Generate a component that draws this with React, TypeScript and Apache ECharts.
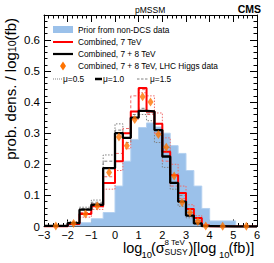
import React, { useEffect, useRef } from 'react';
import * as echarts from 'echarts';

// Histogram bin edges in log10(sigma / fb)
const binEdges = [-3, -2, -1.5, -1, -0.5, 0, 0.333, 0.667, 1, 1.333, 1.667, 2, 2.333, 2.667, 3, 3.333, 3.667, 4, 5.1, 6];

// Prior from non-DCS data (blue filled)
const priorValues = [0, 0.004, 0.012, 0.025, 0.045, 0.13, 0.21, 0.28, 0.318, 0.333, 0.32, 0.3, 0.26, 0.235, 0.18, 0.13, 0.058, 0.018, 0];
// Combined, 7 TeV (red)
const combined7 = [0, 0.008, 0.04, 0.065, 0.14, 0.21, 0.3, 0.37, 0.445, 0.37, 0.33, 0.24, 0.165, 0.108, 0.056, 0.027, 0.003, 0, 0];
// Combined, 7 + 8 TeV (black)
const combined78 = [0.002, 0.011, 0.054, 0.07, 0.188, 0.3, 0.285, 0.35, 0.372, 0.37, 0.31, 0.225, 0.14, 0.08, 0.035, 0.01, 0.001, 0, 0];
// Combined, 7 + 8 TeV, LHC Higgs data (orange markers)
const combined78Higgs = [0.002, 0.01, 0.04, 0.066, 0.174, 0.288, 0.26, 0.344, 0.417, 0.4, 0.296, 0.255, 0.162, 0.077, 0.045, 0.016, 0.002, 0.001, 0.001];
// mu variations
const combined7Mu05 = [0, 0.006, 0.03, 0.055, 0.12, 0.18, 0.25, 0.345, 0.43, 0.42, 0.365, 0.285, 0.2, 0.13, 0.07, 0.035, 0.005, 0, 0];
const combined7Mu15 = [0, 0.01, 0.045, 0.072, 0.16, 0.235, 0.315, 0.42, 0.44, 0.36, 0.3, 0.21, 0.13, 0.09, 0.045, 0.02, 0.002, 0, 0];
const combined78Mu05 = [0.002, 0.016, 0.062, 0.085, 0.23, 0.33, 0.3, 0.37, 0.36, 0.34, 0.27, 0.19, 0.12, 0.065, 0.028, 0.008, 0, 0, 0];
const combined78Mu15 = [0.002, 0.013, 0.058, 0.078, 0.21, 0.31, 0.27, 0.36, 0.38, 0.365, 0.33, 0.255, 0.165, 0.1, 0.045, 0.018, 0.003, 0, 0];

const xMin = -3;
const xMax = 6;
const yMax = 0.68;

const legendLabels = [
  'Prior from non-DCS data',
  'Combined, 7 TeV',
  'Combined, 7 + 8 TeV',
  'Combined, 7 + 8 TeV, LHC Higgs data',
];
const muLabels = ['μ=0.5', 'μ=1.0', 'μ=1.5'];

const FONT = 'Liberation Sans, Arial, Helvetica, sans-serif';
const BLUE = '#9bc1ea';
const ORANGE = '#ff7300';
const PINK = '#f06a6a';
const GRAY = '#808080';

function stepPoints(values: number[]) {
  const pts: number[][] = [];
  values.forEach((v, i) => {
    pts.push([binEdges[i], v]);
    pts.push([binEdges[i + 1], v]);
  });
  return pts;
}

function centers(values: number[]) {
  return values.map((v, i) => [(binEdges[i] + binEdges[i + 1]) / 2, v]);
}

function stepSeries(values: number[], color: string, width: number, type: any, z: number) {
  return {
    type: 'line',
    data: stepPoints(values),
    showSymbol: false,
    symbol: 'none',
    lineStyle: { color, width, type },
    z,
    silent: true,
  };
}

function txt(x: number, y: number, text: string, fontSize: number, extra: any = {}) {
  return {
    type: 'text',
    x,
    y,
    style: {
      text,
      fontSize,
      fontFamily: FONT,
      fill: '#000',
      align: 'left',
      verticalAlign: 'middle',
      ...extra,
    },
    z: 100,
  };
}

export default function App() {
  const ref = useRef<HTMLDivElement>(null);

  useEffect(() => {
    if (!ref.current) return;
    const chart = echarts.init(ref.current, null, { renderer: 'svg' });

    const axisCommon = {
      type: 'value',
      axisLine: { show: true, onZero: false, lineStyle: { color: '#000', width: 1 } },
      axisTick: { show: true, inside: true, length: 7, lineStyle: { color: '#000', width: 1 } },
      minorTick: { show: true, splitNumber: 5, length: 3.5, lineStyle: { color: '#000', width: 1 } },
      splitLine: { show: false },
      minorSplitLine: { show: false },
    };

    const xLabelFmt = (v: number) => {
      if (Math.abs(v - Math.round(v)) > 1e-6) return '';
      const r = Math.round(v);
      return r < 0 ? '\u2212' + Math.abs(r) : String(r);
    };
    const yLabelFmt = (v: number) => {
      const r = Math.round(v * 10);
      if (Math.abs(v * 10 - r) > 1e-6) return '';
      return r === 0 ? '0' : (r / 10).toFixed(1);
    };

    const legendX = 78;
    const rowY = [29.5, 42, 54, 66];
    const muY = 79;

    const option: any = {
      animation: false,
      textStyle: { fontFamily: FONT },
      grid: { left: 44, right: 17, top: 15, bottom: 36.5, containLabel: false, outerBoundsMode: 'none' },
      xAxis: [
        {
          ...axisCommon,
          min: xMin,
          max: xMax,
          interval: 1,
          position: 'bottom',
          axisLabel: { show: true, color: '#000', fontSize: 11, fontFamily: FONT, margin: 4.5, lineHeight: 7, formatter: xLabelFmt },
        },
        {
          ...axisCommon,
          min: xMin,
          max: xMax,
          interval: 1,
          position: 'top',
          axisLabel: { show: false },
        },
      ],
      yAxis: [
        {
          ...axisCommon,
          min: 0,
          max: yMax,
          interval: 0.1,
          position: 'left',
          axisLabel: { show: true, color: '#000', fontSize: 11.5, fontFamily: FONT, margin: 4, lineHeight: 7, formatter: yLabelFmt },
        },
        {
          ...axisCommon,
          min: 0,
          max: yMax,
          interval: 0.1,
          position: 'right',
          axisLabel: { show: false },
        },
      ],
      series: [
        {
          type: 'line',
          data: stepPoints(priorValues),
          showSymbol: false,
          symbol: 'none',
          lineStyle: { color: '#b3d0f0', width: 1 },
          areaStyle: { color: BLUE, opacity: 1 },
          z: 1,
          silent: true,
        },
        stepSeries(combined78Mu05, GRAY, 1, [1.5, 1.5], 2),
        stepSeries(combined78Mu15, GRAY, 1, [3, 2], 2),
        stepSeries(combined7Mu05, PINK, 1, [1.5, 1.5], 3),
        stepSeries(combined7Mu15, PINK, 1, [3, 2], 3),
        stepSeries(combined7, '#ff0000', 2, 'solid', 4),
        stepSeries(combined78, '#000000', 2.3, 'solid', 5),
        {
          type: 'scatter',
          data: centers(combined78Higgs),
          symbol: 'diamond',
          symbolSize: [6, 9],
          itemStyle: { color: ORANGE },
          z: 6,
          silent: true,
        },
      ],
      graphic: [
        // top labels
        txt(135, 9.5, 'pMSSM', 8.5),
        txt(261, 9, 'CMS', 10.5, { align: 'right', fontWeight: 'bold' }),
        // legend
        { type: 'rect', shape: { x: 53, y: 26, width: 20, height: 7 }, style: { fill: BLUE }, z: 100 },
        { type: 'line', shape: { x1: 53, y1: rowY[1], x2: 73, y2: rowY[1] }, style: { stroke: '#ff0000', lineWidth: 2 }, z: 100 },
        { type: 'line', shape: { x1: 53, y1: rowY[2], x2: 73, y2: rowY[2] }, style: { stroke: '#000', lineWidth: 2.2 }, z: 100 },
        {
          type: 'polygon',
          shape: { points: [[63, rowY[3] - 4.5], [66, rowY[3]], [63, rowY[3] + 4.5], [60, rowY[3]]] },
          style: { fill: ORANGE },
          z: 100,
        },
        ...legendLabels.map((l, i) => txt(legendX, rowY[i], l, 8.3)),
        { type: 'line', shape: { x1: 53, y1: muY, x2: 62, y2: muY }, style: { stroke: GRAY, lineWidth: 1, lineDash: [1, 1] }, z: 100 },
        txt(63, muY, muLabels[0], 8.3),
        { type: 'line', shape: { x1: 95, y1: muY, x2: 102, y2: muY }, style: { stroke: '#000', lineWidth: 2.5 }, z: 100 },
        txt(103, muY, muLabels[1], 8.3),
        { type: 'line', shape: { x1: 137, y1: muY, x2: 149, y2: muY }, style: { stroke: GRAY, lineWidth: 1, lineDash: [2.5, 1.5] }, z: 100 },
        txt(150, muY, muLabels[2], 8.3),
        // y axis title
        {
          type: 'text',
          x: 10,
          y: 18,
          rotation: Math.PI / 2,
          style: {
            text: '{a|prob. dens. / log}{s|10}{a|(fb)}',
            align: 'right',
            verticalAlign: 'middle',
            fontFamily: FONT,
            fontSize: 15,
            fill: '#000',
            rich: {
              a: { fontSize: 15, lineHeight: 15, verticalAlign: 'top', fontFamily: FONT, fill: '#000' },
              s: { fontSize: 10.5, lineHeight: 10.5, verticalAlign: 'bottom', padding: [7, 0, 0, 0], fontFamily: FONT, fill: '#000' },
            },
          },
          z: 100,
        },
        // x axis title pieces
        txt(123, 248, 'log', 14.5, { lineHeight: 10 }),
        txt(141.5, 254.5, '10', 9.5, { lineHeight: 7 }),
        txt(151, 248, '(σ', 14.5, { lineHeight: 10 }),
        txt(164.5, 242.3, '8 TeV', 8, { lineHeight: 5 }),
        txt(164.5, 252.3, 'SUSY', 8.5, { lineHeight: 6 }),
        txt(188.5, 248, ')', 14.5, { lineHeight: 10 }),
        txt(193, 248, '[log', 14.5, { lineHeight: 10 }),
        txt(219, 254.5, '10', 9.5, { lineHeight: 7 }),
        txt(228.5, 248, '(fb)]', 14.5, { lineHeight: 10 }),
      ],
    };

    chart.setOption(option);
    return () => chart.dispose();
  }, []);

  return (
    <div
      ref={ref}
      style={{ position: 'fixed', left: 0, top: 0, width: 274, height: 263, background: '#fff' }}
    />
  );
}
